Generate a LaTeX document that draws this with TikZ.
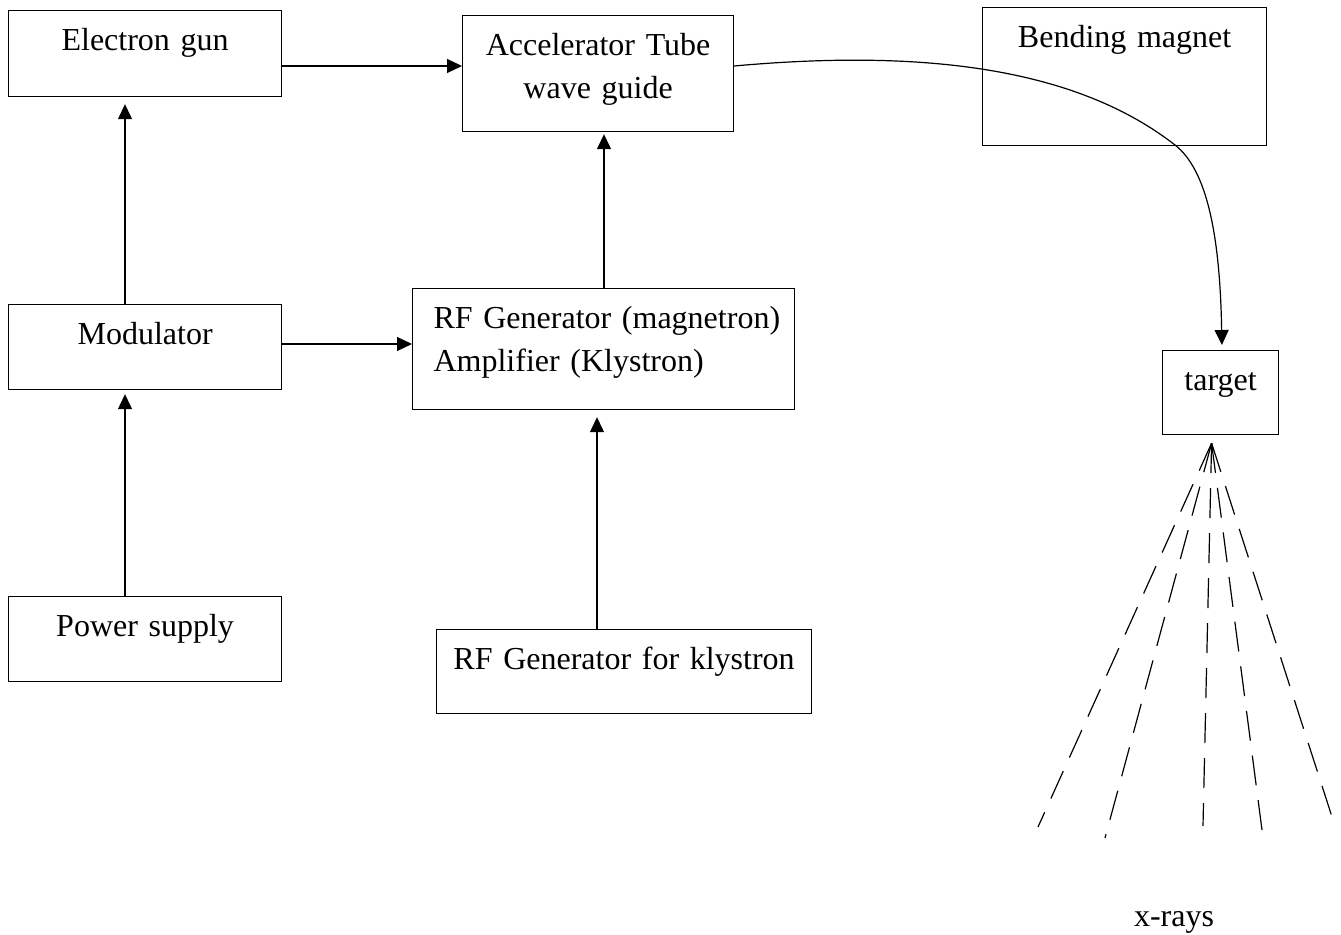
\documentclass[tikz,border=0pt]{standalone}
\usepackage{fontspec}
\setmainfont{Liberation Serif}
\usepackage{tikz}
\usetikzlibrary{arrows.meta, positioning, calc}
\tikzstyle{box} = [rectangle, draw=black, line width=0.6pt, anchor=north west, inner xsep=0pt, inner ysep=0pt, text height=20pt, align=center, font=\fontsize{16}{21.5}\selectfont]
\tikzstyle{arrow} = [line width=0.6pt, -{Triangle[length=7.5pt, width=7pt]}]
\tikzstyle{ray} = [line width=0.6pt, dash pattern=on 15pt off 7.5pt]

\begin{document}
\begin{tikzpicture}[x=0.5pt, y=-0.5pt]
\useasboundingbox (0,0) rectangle (1341,935);
\node (gun) [box, text width=136.5pt, text depth=23pt] at (8,10) {Electron gun};
\node (acc) [box, text width=135.5pt, text depth=38pt] at (462,15) {Accelerator Tube\\wave guide};
\node (bend) [box, text width=142pt, text depth=49pt] at (982,7) {Bending magnet};
\node (mod) [box, text width=136.5pt, text depth=22.5pt] at (8,304) {Modulator};
\node (rf) [box, text width=170pt, inner xsep=10.5pt, align=left, text depth=40.5pt] at (412,288) {\mbox{RF Generator (magnetron)}\\\mbox{Amplifier (Klystron)}};
\node (ps) [box, text width=136.5pt, text depth=22.5pt] at (8,596) {Power supply};
\node (kly) [box, text width=187.5pt, text depth=22pt] at (436,629) {RF Generator for klystron};
\node (target) [box, text width=58pt, text depth=22pt] at (1162,350) {target};
\node (xlabel) [anchor=base, font=\fontsize{16}{21.5}\selectfont] at (1174,927) {x-rays};
\draw [arrow] (gun.east |- 0,66) -- (acc.west |- 0,66);
\draw [arrow, shorten >=3.5pt] (mod.north -| 125,0) -- (gun.south -| 125,0);
\draw [arrow] (mod.east |- 0,344) -- (rf.west |- 0,344);
\draw [arrow, shorten >=2pt] (ps.north -| 125,0) -- (mod.south -| 125,0);
\draw [arrow, shorten >=1pt] (rf.north -| 604,0) -- (acc.south -| 604,0);
\draw [arrow, shorten >=3.5pt] (kly.north -| 597,0) -- (rf.south -| 597,0);
% beam bent down onto the target
\draw [arrow, shorten >=2.5pt] (acc.east |- 0,66) .. controls (933,48) and (1080,71) .. (1175,145) .. controls (1207,170) and (1220,235) .. (target.north -| 1222,0);
% x-rays
\coordinate (src) at ([xshift=-4.5pt, yshift=-4pt]target.south);
\foreach \x/\y in {1038/827, 1105/838, 1203/826, 1262/830, 1333/820}
  \draw [ray] (src) -- (\x,\y);
\end{tikzpicture}
\end{document}
